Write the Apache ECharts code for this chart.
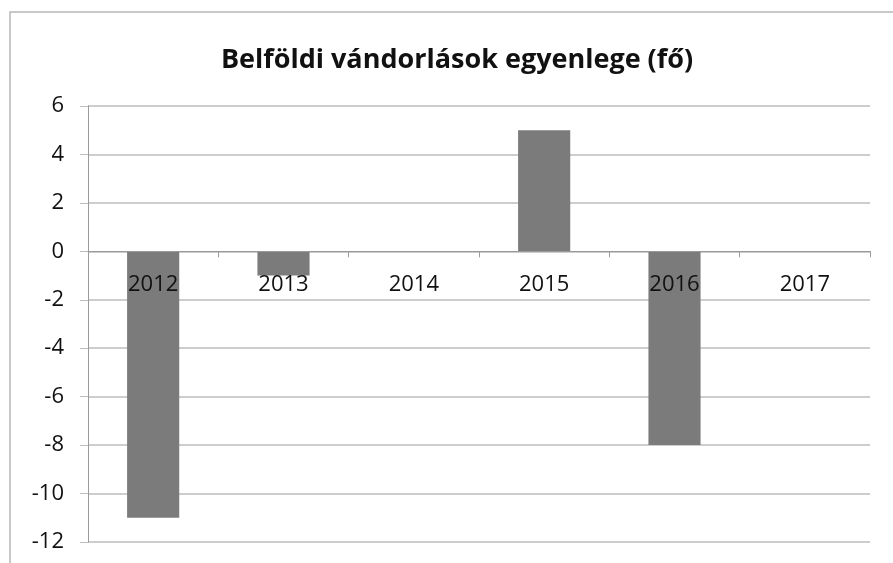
<!DOCTYPE html>
<html>
<head>
<meta charset="utf-8">
<script src="https://cdn.jsdelivr.net/npm/echarts@6/dist/echarts.min.js"></script>
<style>
  html, body { margin: 0; padding: 0; background: #fff; }
  #chart { width: 893px; height: 563px; }
</style>
</head>
<body>
<div id="chart"></div>
<script>
const CHART_TITLE = "Belföldi vándorlások egyenlege (fő)";
const YEARS = ["2012", "2013", "2014", "2015", "2016", "2017"];
const BALANCE = [-11, -1, 0, 5, -8, 0];
const Y_MIN = -12;
const Y_MAX = 6;
const Y_STEP = 2;

const FONT = "'Open Sans', 'Liberation Sans', sans-serif";
const GRID_COLOR = "#bdbdbd";
const BAR_COLOR = "#7b7b7b";

const GRID_TOP = 106;
const GRID_BOTTOM = 21;
const CHART_H = 563;

// put the category axis on the zero line
const plotH = CHART_H - GRID_TOP - GRID_BOTTOM;
const zeroFromBottom = plotH * (0 - Y_MIN) / (Y_MAX - Y_MIN);

const chart = echarts.init(document.getElementById("chart"));

chart.setOption({
  animation: false,
  backgroundColor: "#fff",
  graphic: [
    {
      type: "rect",
      shape: { x: 10, y: 12, width: 900, height: 600 },
      style: { fill: "none", stroke: "#b8b8b8", lineWidth: 1.5 },
      silent: true,
      z: -1
    }
  ],
  title: {
    text: CHART_TITLE,
    left: 452,
    top: 42,
    textAlign: "center",
    textStyle: {
      fontFamily: FONT,
      fontSize: 27,
      fontWeight: "bold",
      color: "#111"
    }
  },
  grid: {
    left: 88,
    right: 23,
    top: GRID_TOP,
    bottom: GRID_BOTTOM,
    containLabel: false,
    outerBoundsMode: "none"
  },
  xAxis: {
    type: "category",
    data: YEARS,
    offset: -zeroFromBottom,
    axisLine: { onZero: false, lineStyle: { color: "#9a9a9a", width: 1 } },
    axisTick: { show: true, length: 6, lineStyle: { color: "#9a9a9a" } },
    axisLabel: {
      margin: 22,
      fontFamily: FONT,
      fontSize: 22,
      color: "#111"
    },
    z: 5
  },
  yAxis: {
    type: "value",
    min: Y_MIN,
    max: Y_MAX,
    interval: Y_STEP,
    axisLine: { show: true, lineStyle: { color: "#9a9a9a", width: 1 } },
    axisTick: { show: true, length: 8, lineStyle: { color: GRID_COLOR } },
    axisLabel: {
      margin: 24,
      fontFamily: FONT,
      fontSize: 22,
      color: "#111"
    },
    splitLine: { show: true, lineStyle: { color: GRID_COLOR, width: 1.5 } }
  },
  series: [
    {
      type: "bar",
      data: BALANCE,
      barWidth: "40%",
      itemStyle: { color: BAR_COLOR },
      z: 1
    }
  ]
});
</script>
</body>
</html>
